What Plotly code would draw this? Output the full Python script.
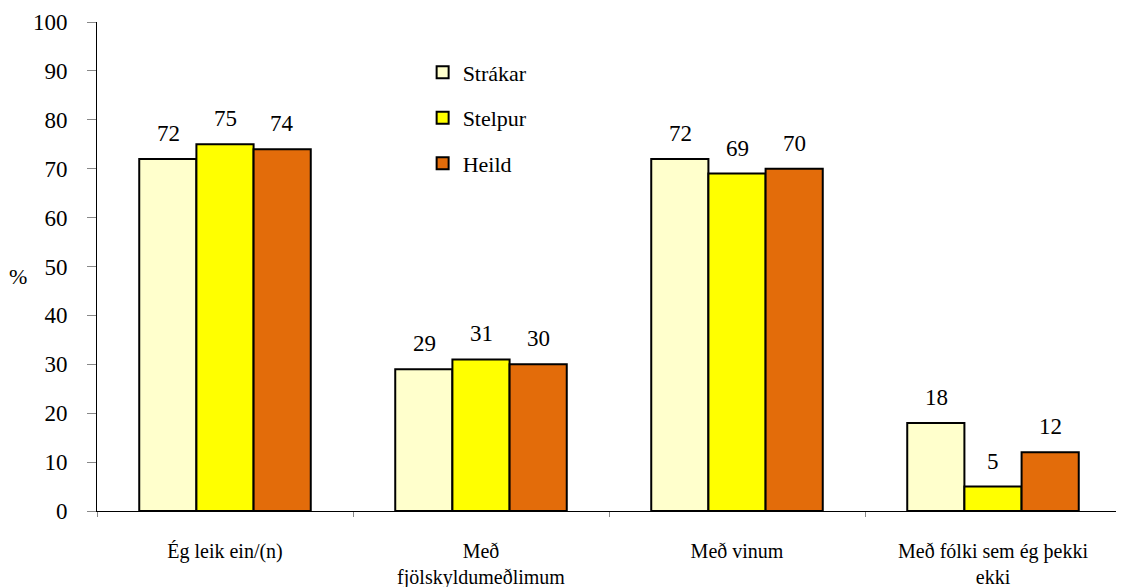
import plotly.graph_objects as go

categories = ["Ég leik ein/(n)", "Með<br>fjölskyldumeðlimum", "Með vinum",
              "Með fólki sem ég þekki<br>ekki"]
strakar = [72, 29, 72, 18]
stelpur = [75, 31, 69, 5]
heild = [74, 30, 70, 12]

series = [("Strákar", strakar, "#FFFFCC"),
          ("Stelpur", stelpur, "#FFFF00"),
          ("Heild", heild, "#E36C0A")]

FONT = "Liberation Serif"
BAR_PX = 57  # bar width in px, used to put the value labels over each bar


def f(size):
    return dict(family=FONT, size=size, color="black", weight=400, style="normal")


fig = go.Figure()
annots = []
for i, (name, vals, col) in enumerate(series):
    fig.add_trace(go.Bar(
        x=categories, y=vals, name=name, legendgroup=name,
        marker=dict(color=col, line=dict(color="black", width=2)),
    ))
    for cat, v in zip(categories, vals):
        annots.append(dict(x=cat, y=v, text=str(v), showarrow=False,
                           xshift=(i - 1) * BAR_PX, yshift=11, yanchor="bottom",
                           font=f(23)))

annots.append(dict(text="%", x=-0.088, y=0.48, xref="paper", yref="paper",
                   showarrow=False, font=f(22)))

# page body has an 8px margin, so the figure is 8px smaller than the window
fig.update_layout(
    width=1116, height=579,
    margin=dict(l=89, r=3, t=14, b=76),
    paper_bgcolor="white", plot_bgcolor="white",
    barmode="group", bargap=0.33, bargroupgap=0,
    font=f(20),
    showlegend=True,
    legend=dict(x=0.318, y=0.94, xanchor="left", yanchor="top",
                font=f(22), tracegroupgap=14,
                itemwidth=30, bgcolor="rgba(0,0,0,0)"),
    annotations=annots,
)

fig.update_xaxes(showline=True, linecolor="black", linewidth=1,
                 ticks="outside", tickson="boundaries", ticklen=5,
                 tickcolor="#888", ticklabelstandoff=22, automargin=False,
                 tickfont=f(20))
fig.update_yaxes(range=[0, 100], dtick=10, showline=True, linecolor="black",
                 linewidth=1, ticks="outside", ticklen=9, tickcolor="#888",
                 showgrid=False, zeroline=False, ticklabelstandoff=15, automargin=False,
                 tickfont=f(23))

fig.write_html("out.html")
